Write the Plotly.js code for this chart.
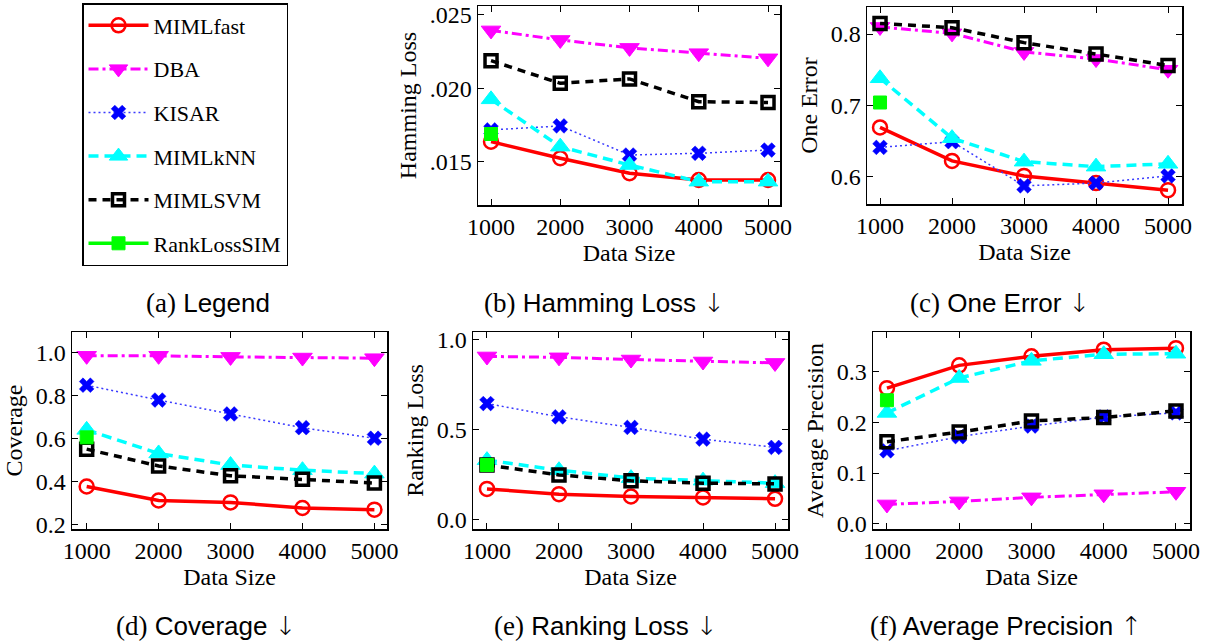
<!DOCTYPE html>
<html><head><meta charset="utf-8">
<script src="https://cdn.plot.ly/plotly-3.0.1.min.js"></script>
<style>html,body{margin:0;padding:0;background:#fff}#chart{width:1207px;height:644px}</style>
</head><body><div id="chart"></div>
<script>
// ---------------- data ----------------
const dataSizes = [1000, 2000, 3000, 4000, 5000];
const xTickText = ['1000', '2000', '3000', '4000', '5000'];
const methodNames = ['MIMLfast', 'DBA', 'KISAR', 'MIMLkNN', 'MIMLSVM', 'RankLossSIM'];
const rankLossSIMSizes = [1000];

// (b) Hamming Loss
const hammingMIMLfast = [0.01638, 0.01525, 0.01423, 0.01377, 0.01377];
const hammingDBA      = [0.02395, 0.02330, 0.02276, 0.02240, 0.02205];
const hammingKISAR    = [0.01718, 0.01745, 0.01547, 0.01559, 0.01581];
const hammingMIMLkNN  = [0.01926, 0.01604, 0.01479, 0.01366, 0.01366];
const hammingMIMLSVM  = [0.02189, 0.02035, 0.02065, 0.01910, 0.01904];
const hammingRankLossSIM = [0.01690];
const hammingTickVals = [0.015, 0.020, 0.025];
const hammingTickText = ['.015', '.020', '.025'];

// (c) One Error
const oneErrMIMLfast = [0.669, 0.622, 0.601, 0.591, 0.581];
const oneErrDBA      = [0.810, 0.801, 0.775, 0.765, 0.750];
const oneErrKISAR    = [0.641, 0.649, 0.587, 0.591, 0.601];
const oneErrMIMLkNN  = [0.738, 0.654, 0.621, 0.614, 0.618];
const oneErrMIMLSVM  = [0.815, 0.809, 0.788, 0.772, 0.756];
const oneErrRankLossSIM = [0.704];
const oneErrTickVals = [0.6, 0.7, 0.8];
const oneErrTickText = ['0.6', '0.7', '0.8'];

// (d) Coverage
const covMIMLfast = [0.376, 0.311, 0.302, 0.276, 0.268];
const covDBA      = [0.985, 0.985, 0.980, 0.977, 0.974];
const covKISAR    = [0.848, 0.779, 0.714, 0.650, 0.601];
const covMIMLkNN  = [0.640, 0.530, 0.476, 0.452, 0.436];
const covMIMLSVM  = [0.550, 0.472, 0.426, 0.410, 0.392];
const covRankLossSIM = [0.605];
const covTickVals = [0.2, 0.4, 0.6, 0.8, 1.0];
const covTickText = ['0.2', '0.4', '0.6', '0.8', '1.0'];

// (e) Ranking Loss
const rlMIMLfast = [0.168, 0.139, 0.126, 0.120, 0.113];
const rlDBA      = [0.905, 0.900, 0.888, 0.877, 0.869];
const rlKISAR    = [0.643, 0.569, 0.510, 0.445, 0.399];
const rlMIMLkNN  = [0.328, 0.272, 0.228, 0.214, 0.200];
const rlMIMLSVM  = [0.301, 0.246, 0.213, 0.200, 0.196];
const rlRankLossSIM = [0.301];
const rlTickVals = [0.0, 0.5, 1.0];
const rlTickText = ['0.0', '0.5', '1.0'];

// (f) Average Precision
const apMIMLfast = [0.268, 0.313, 0.331, 0.344, 0.347];
const apDBA      = [0.038, 0.044, 0.052, 0.058, 0.063];
const apKISAR    = [0.144, 0.172, 0.193, 0.211, 0.219];
const apMIMLkNN  = [0.219, 0.288, 0.322, 0.335, 0.336];
const apMIMLSVM  = [0.162, 0.181, 0.203, 0.210, 0.223];
const apRankLossSIM = [0.244];
const apTickVals = [0.0, 0.1, 0.2, 0.3];
const apTickText = ['0.0', '0.1', '0.2', '0.3'];

// ---------------- styles ----------------
const styles = {
  MIMLfast:    {line: {color: '#ff0000', width: 3.5, dash: 'solid'},
                marker: {symbol: 'circle-open', size: 14, color: '#ff0000', line: {width: 2.5, color: '#ff0000'}}},
  DBA:         {line: {color: '#ff00ff', width: 3, dash: '10px,4px,3px,4px'},
                marker: {symbol: 'triangle-down', size: 17, color: '#ff00ff', line: {width: 1, color: '#ff00ff'}}},
  KISAR:       {line: {color: '#3a3aff', width: 1.5, dash: '2px,3px'},
                marker: {symbol: 'x', size: 13, color: '#0000ff', line: {width: 0.5, color: '#0000ff'}}},
  MIMLkNN:     {line: {color: '#00ffff', width: 3.5, dash: '10px,6px'},
                marker: {symbol: 'triangle-up', size: 17, color: '#00ffff', line: {width: 1, color: '#00ffff'}}},
  MIMLSVM:     {line: {color: '#000000', width: 3.5, dash: '8px,6px'},
                marker: {symbol: 'square-open', size: 12, color: '#000000', line: {width: 3.5, color: '#000000'}}},
  RankLossSIM: {line: {color: '#00ff00', width: 3.5, dash: 'solid'},
                marker: {symbol: 'square', size: 13, color: '#00ff00', line: {width: 1, color: '#00ff00'}}}
};

const panels = [
  {xa: 'x',  ya: 'y',  series: [hammingMIMLfast, hammingDBA, hammingKISAR, hammingMIMLkNN, hammingMIMLSVM, hammingRankLossSIM]},
  {xa: 'x2', ya: 'y2', series: [oneErrMIMLfast, oneErrDBA, oneErrKISAR, oneErrMIMLkNN, oneErrMIMLSVM, oneErrRankLossSIM]},
  {xa: 'x3', ya: 'y3', series: [covMIMLfast, covDBA, covKISAR, covMIMLkNN, covMIMLSVM, covRankLossSIM]},
  {xa: 'x4', ya: 'y4', series: [rlMIMLfast, rlDBA, rlKISAR, rlMIMLkNN, rlMIMLSVM, rlRankLossSIM]},
  {xa: 'x5', ya: 'y5', series: [apMIMLfast, apDBA, apKISAR, apMIMLkNN, apMIMLSVM, apRankLossSIM]}
];

const traces = [];
panels.forEach((p, pi) => {
  methodNames.forEach((m, mi) => {
    const st = styles[m];
    traces.push({
      type: 'scatter', mode: 'lines+markers',
      x: m === 'RankLossSIM' ? rankLossSIMSizes : dataSizes,
      y: p.series[mi],
      xaxis: p.xa, yaxis: p.ya,
      name: m, legendgroup: m, showlegend: pi === 0,
      line: st.line, marker: st.marker,
      hoverinfo: 'skip'
    });
  });
});

const W = 1207, H = 644;
const dx = (a, b) => [a / W, b / W];
const dy = (top, bottom) => [1 - bottom / H, 1 - top / H];

const tickFont = {family: 'Liberation Serif, Times New Roman, serif', size: 24, color: '#000'};
const titleFont = {family: 'Liberation Serif, Times New Roman, serif', size: 24, color: '#000'};

function xAxis(domain, anchor, range) {
  return {domain: domain, anchor: anchor, range: range, tickvals: dataSizes, ticktext: xTickText,
    showline: true, linecolor: '#000', linewidth: 1.5, mirror: 'ticks', ticks: 'inside', ticklen: 6,
    tickcolor: '#000', tickwidth: 1, showgrid: false, zeroline: false, tickfont: tickFont,
    title: {text: 'Data Size', font: titleFont, standoff: 0}};
}
function yAxis(domain, anchor, range, tv, tt, title) {
  return {domain: domain, anchor: anchor, range: range, tickvals: tv, ticktext: tt,
    showline: true, linecolor: '#000', linewidth: 1.5, mirror: 'ticks', ticks: 'inside', ticklen: 6,
    tickcolor: '#000', tickwidth: 1, showgrid: false, zeroline: false, tickfont: tickFont,
    title: {text: title, font: titleFont, standoff: 6}};
}

const capFont = {family: 'Liberation Sans, Arial, sans-serif', size: 26, color: '#000'};
const serifSpan = t => '<span style="font-family:Liberation Serif, Times New Roman, serif;font-size:27px">' + t + '</span>';
const arrowSpan = t => '<span style="font-family:DejaVu Sans;font-size:26px;font-weight:200">' + t + '</span>';
const captions = [
  {x: 208, y: 303, text: serifSpan('(a)') + ' Legend'},
  {x: 604, y: 303, text: serifSpan('(b)') + ' Hamming Loss ' + arrowSpan('↓')},
  {x: 1000, y: 303, text: serifSpan('(c)') + ' One Error ' + arrowSpan('↓')},
  {x: 206, y: 626, text: serifSpan('(d)') + ' Coverage ' + arrowSpan('↓')},
  {x: 606, y: 626, text: serifSpan('(e)') + ' Ranking Loss ' + arrowSpan('↓')},
  {x: 1006, y: 626, text: serifSpan('(f)') + ' Average Precision ' + arrowSpan('↑')}
];

const layout = {
  width: W, height: H,
  margin: {l: 0, r: 0, t: 0, b: 0},
  paper_bgcolor: '#fff', plot_bgcolor: '#fff',
  xaxis:  xAxis(dx(478, 780), 'y',  [812, 5173]),
  yaxis:  yAxis(dy(6, 205),   'x',  [0.01207, 0.02561], hammingTickVals, hammingTickText, 'Hamming Loss'),
  xaxis2: xAxis(dx(867, 1182), 'y2', [819, 5194]),
  yaxis2: yAxis(dy(7, 204),    'x2', [0.5616, 0.838], oneErrTickVals, oneErrTickText, 'One Error'),
  xaxis3: xAxis(dx(72, 387),  'y3', [796, 5175]),
  yaxis3: yAxis(dy(332, 529), 'x3', [0.178, 1.096], covTickVals, covTickText, 'Coverage'),
  xaxis4: xAxis(dx(473, 788), 'y4', [806, 5180]),
  yaxis4: yAxis(dy(332, 529), 'x4', [-0.055, 1.041], rlTickVals, rlTickText, 'Ranking Loss'),
  xaxis5: xAxis(dx(873, 1190), 'y5', [807, 5194]),
  yaxis5: yAxis(dy(332, 529), 'x5', [-0.0106, 0.379], apTickVals, apTickText, 'Average Precision'),
  showlegend: true,
  legend: {x: 82 / W, y: 1 - 3 / H, xanchor: 'left', yanchor: 'top',
    bordercolor: '#000', borderwidth: 1.5, bgcolor: '#fff',
    font: {family: 'Liberation Serif, Times New Roman, serif', size: 22, color: '#000'},
    traceorder: 'grouped', tracegroupgap: 12, itemwidth: 60, itemclick: false, itemdoubleclick: false},
  annotations: captions.map(c => ({xref: 'paper', yref: 'paper', x: c.x / W, y: 1 - c.y / H,
    xanchor: 'center', yanchor: 'middle', showarrow: false, text: c.text, font: capFont}))
};

Plotly.newPlot('chart', traces, layout, {staticPlot: true, displayModeBar: false});
</script>
</body></html>
